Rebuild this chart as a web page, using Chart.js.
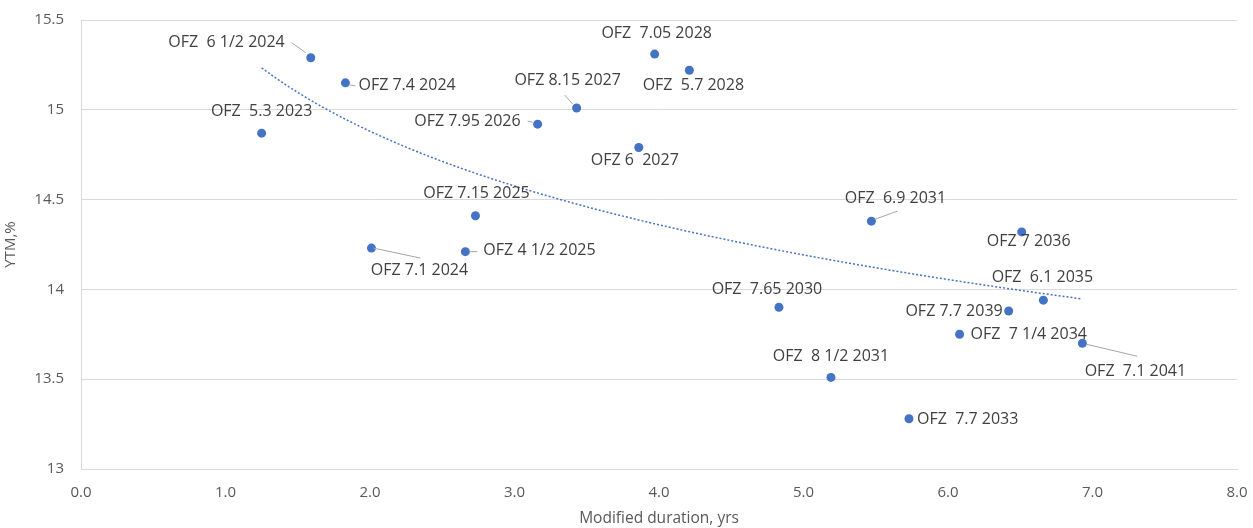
<!DOCTYPE html>
<html>
<head>
<meta charset="utf-8">
<script src="https://cdn.jsdelivr.net/npm/chart.js@4/dist/chart.umd.min.js"></script>
<style>
  html, body { margin: 0; padding: 0; background: #fff; }
  #wrap { width: 1253px; height: 528px; }
</style>
</head>
<body>
<div id="wrap"><canvas id="myChart" width="1253" height="528"></canvas></div>
<script>
    // bonds: name, modified duration (yrs), YTM (%)
    const bondNames = [
        'OFZ  6 1/2 2024', 'OFZ 7.4 2024', 'OFZ  5.3 2023', 'OFZ  7.05 2028', 'OFZ  5.7 2028',
        'OFZ 8.15 2027', 'OFZ 7.95 2026', 'OFZ 6  2027', 'OFZ 7.15 2025', 'OFZ 7.1 2024',
        'OFZ 4 1/2 2025', 'OFZ  6.9 2031', 'OFZ 7 2036', 'OFZ  6.1 2035', 'OFZ 7.7 2039',
        'OFZ  7 1/4 2034', 'OFZ  7.1 2041', 'OFZ  7.65 2030', 'OFZ  8 1/2 2031', 'OFZ  7.7 2033'
    ];
    const durations = [1.59, 1.83, 1.25, 3.97, 4.21, 3.43, 3.16, 3.86, 2.73, 2.01,
                       2.66, 5.47, 6.51, 6.66, 6.42, 6.08, 6.93, 4.83, 5.19, 5.73];
    const yields = [15.29, 15.15, 14.87, 15.31, 15.22, 15.01, 14.92, 14.79, 14.41, 14.23,
                    14.21, 14.38, 14.32, 13.94, 13.88, 13.75, 13.70, 13.90, 13.51, 13.28];
    const xTicks = [0, 1, 2, 3, 4, 5, 6, 7, 8];
    const yTicks = [13, 13.5, 14, 14.5, 15, 15.5];

    // label placement (pixels from the point): align, dx, dy, optional leader line
    const labelLayout = [
        ['right', -26, -15, [-19, -15, -5, -5]],
        ['left', 13, 3, [4, 2, 10, 3]],
        ['center', 0, -22],
        ['center', 2, -21],
        ['center', 4, 15],
        ['center', -9, -28, [-12, -13, -4, -4]],
        ['right', -17, -3, [-10, -3, -5, -2]],
        ['center', -4, 13],
        ['center', 1, -22],
        ['center', 48, 22, [2, 0, 49, 10]],
        ['left', 18, -1, [4, 0, 12, 0]],
        ['center', 24, -23, [4, -2, 26, -10]],
        ['center', 7, 10],
        ['center', -1, -23],
        ['right', -6, 0],
        ['left', 11, 0],
        ['center', 53, 28, [4, 1, 55, 13]],
        ['center', -12, -18],
        ['center', 0, -21],
        ['left', 8, 1]
    ];

    // logarithmic trend line fitted to the points (like the spreadsheet trendline)
    function logFit(xs, ys) {
        const n = xs.length;
        let sx = 0, sy = 0, sxx = 0, sxy = 0;
        xs.forEach((x, i) => {
            const lx = Math.log(x);
            sx += lx; sy += ys[i]; sxx += lx * lx; sxy += lx * ys[i];
        });
        const b = (n * sxy - sx * sy) / (n * sxx - sx * sx);
        const a = (sy - b * sx) / n;
        return x => a + b * Math.log(x);
    }
    const trend = logFit(durations, yields);
    const xMin = Math.min(...durations), xMax = Math.max(...durations);
    const trendPoints = [];
    for (let k = 0; k <= 60; k++) {
        const x = xMin + (xMax - xMin) * k / 60;
        trendPoints.push({x: x, y: trend(x)});
    }

    const labelPlugin = {
        id: 'bondLabels',
        afterDatasetsDraw(chart) {
            const ctx = chart.ctx;
            const meta = chart.getDatasetMeta(1);
            ctx.save();
            ctx.font = '16px "Open Sans", "Noto Sans", sans-serif';
            ctx.fillStyle = '#404040';
            ctx.textBaseline = 'middle';
            meta.data.forEach((pt, i) => {
                const [align, dx, dy, leader] = labelLayout[i];
                if (leader) {
                    ctx.strokeStyle = '#a6a6a6';
                    ctx.lineWidth = 1;
                    ctx.beginPath();
                    ctx.moveTo(pt.x + leader[0], pt.y + leader[1]);
                    ctx.lineTo(pt.x + leader[2], pt.y + leader[3]);
                    ctx.stroke();
                }
                ctx.textAlign = align;
                ctx.fillText(bondNames[i], pt.x + dx, pt.y + dy);
            });
            ctx.restore();
        }
    };

    const ctx = document.getElementById('myChart');
    const myChart = new Chart(ctx, {
        type: 'scatter',
        data: {
            datasets: [{
                label: 'trend',
                data: trendPoints,
                showLine: true,
                pointRadius: 0,
                borderColor: '#4472c4',
                borderWidth: 1.5,
                borderDash: [2, 2],
                fill: false
            }, {
                label: 'OFZ',
                data: durations.map((d, i) => ({x: d, y: yields[i]})),
                pointRadius: 4.5,
                pointBackgroundColor: '#4472c4',
                pointBorderColor: '#4472c4',
                pointBorderWidth: 0
            }]
        },
        options: {
            responsive: false,
            animation: false,
            layout: { padding: { left: 0, right: 16, top: 20, bottom: 0 } },
            plugins: {
                legend: { display: false },
                tooltip: { enabled: false }
            },
            scales: {
                x: {
                    type: 'linear',
                    min: xTicks[0],
                    max: xTicks[xTicks.length - 1],
                    afterBuildTicks: axis => { axis.ticks = xTicks.map(v => ({value: v})); },
                    afterFit: axis => {
                        axis.height = 59;
                        axis.paddingLeft = 0;
                        axis.paddingRight = 0;
                    },
                    grid: { display: false, drawTicks: false },
                    border: { display: true, color: '#d9d9d9' },
                    ticks: {
                        padding: 15,
                        color: '#595959',
                        font: { family: '"Open Sans", sans-serif', size: 15 },
                        callback: v => Number(v).toFixed(1)
                    },
                    title: {
                        display: true,
                        text: 'Modified duration, yrs',
                        color: '#595959',
                        font: { family: '"Open Sans", sans-serif', size: 15.5 },
                        padding: { top: 0, bottom: 0 }
                    }
                },
                y: {
                    type: 'linear',
                    min: yTicks[0],
                    max: yTicks[yTicks.length - 1],
                    afterBuildTicks: axis => { axis.ticks = yTicks.map(v => ({value: v})); },
                    afterFit: axis => {
                        axis.width = 81;
                        axis.paddingTop = 0;
                        axis.paddingBottom = 0;
                    },
                    grid: { color: '#d9d9d9', drawTicks: false },
                    border: { display: true, color: '#d9d9d9' },
                    ticks: {
                        padding: 17,
                        color: '#595959',
                        font: { family: '"Open Sans", sans-serif', size: 15 },
                        callback: v => String(v)
                    },
                    title: {
                        display: true,
                        text: 'YTM,%',
                        color: '#595959',
                        font: { family: '"Open Sans", sans-serif', size: 15 },
                        padding: { top: 2, bottom: 0 }
                    }
                }
            }
        },
        plugins: [labelPlugin]
    });
</script>
</body>
</html>
